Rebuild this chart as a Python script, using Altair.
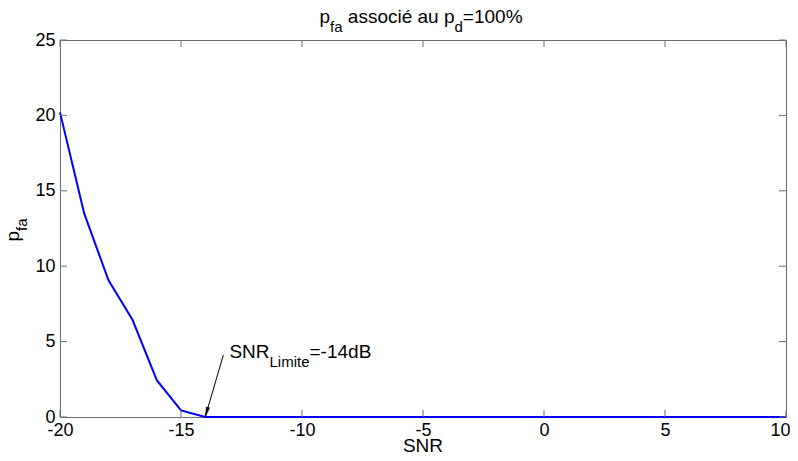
import altair as alt
import pandas as pd

# ---- data ----
snr = [-20, -19, -18, -17, -16, -15, -14, -13, -12, -11, -10, -9, -8, -7, -6, -5,
       -4, -3, -2, -1, 0, 1, 2, 3, 4, 5, 6, 7, 8, 9, 10]
pfa = [20.2, 13.5, 9.08, 6.43, 2.44, 0.44, 0, 0, 0, 0, 0, 0, 0, 0, 0, 0,
       0, 0, 0, 0, 0, 0, 0, 0, 0, 0, 0, 0, 0, 0, 0]
x_ticks = [-20, -15, -10, -5, 0, 5, 10]
y_ticks = [0, 5, 10, 15, 20, 25]
arrow_tail = (-13.25, 4.11)
arrow_head = (-14.0, 0.0)
label_pos = (-13.0, 3.9)
x_title = "SNR"

FONT = "Liberation Sans"
W, H = 726, 377
BOX = "#6e6e6e"
MAIN, SUB, DROP = 19, 15, 9

# Arial advance widths (per em)
AW = {'p': .556, 'f': .278, 'a': .556, ' ': .278, 's': .5, 'o': .556, 'c': .5,
      'i': .222, 'é': .556, 'u': .556, 'd': .556, '=': .584, '1': .556, '0': .556,
      '%': .889, 'S': .667, 'N': .722, 'R': .722, 'L': .556, 'm': .833, 't': .278,
      'e': .556, '-': .333, '4': .556, 'B': .667}


def tw(s, size):
    return sum(AW.get(ch, .556) for ch in s) * size


df = pd.DataFrame({"snr": snr, "pfa": pfa})
xs = alt.Scale(domain=[-20, 10], nice=False, zero=False)
ys = alt.Scale(domain=[0, 25], nice=False)

last_x = x_ticks[-1]
base = alt.Chart(df)
line = base.mark_line(color="#0000ff", strokeWidth=2).encode(
    x=alt.X("snr:Q", scale=xs,
            axis=alt.Axis(values=x_ticks, domain=False, ticks=False, tickSize=0, grid=False,
                          labelFont=FONT, labelFontSize=18, labelColor="black",
                          labelPadding=4, labelFlush=False, labelOverlap=False,
                          labelAlign=alt.condition(f"datum.value == {last_x}",
                                                   alt.value("right"), alt.value("center")),
                          labelOffset=alt.condition(f"datum.value == {last_x}",
                                                    alt.value(4), alt.value(0)),
                          labelExpr="'' + datum.value", title=None)),
    y=alt.Y("pfa:Q", scale=ys,
            axis=alt.Axis(values=y_ticks, domain=False, ticks=False, tickSize=0, grid=False,
                          labelFont=FONT, labelFontSize=18, labelColor="black",
                          labelPadding=5, labelFlush=False, labelOverlap=False,
                          labelExpr="'' + datum.value", title=None)),
)

xt = pd.DataFrame({"v": x_ticks})
yt = pd.DataFrame({"v": y_ticks})
tick_len = 7
xtick_b = alt.Chart(xt).mark_rule(color=BOX, strokeWidth=1).encode(
    x=alt.X("v:Q", scale=xs), y=alt.value(H), y2=alt.value(H - tick_len))
xtick_t = alt.Chart(xt).mark_rule(color=BOX, strokeWidth=1).encode(
    x=alt.X("v:Q", scale=xs), y=alt.value(0), y2=alt.value(tick_len))
ytick_l = alt.Chart(yt).mark_rule(color=BOX, strokeWidth=1).encode(
    y=alt.Y("v:Q", scale=ys), x=alt.value(0), x2=alt.value(tick_len))
ytick_r = alt.Chart(yt).mark_rule(color=BOX, strokeWidth=1).encode(
    y=alt.Y("v:Q", scale=ys), x=alt.value(W), x2=alt.value(W - tick_len))

# arrow
adf = pd.DataFrame({"x": [arrow_tail[0]], "y": [arrow_tail[1]],
                    "x2": [arrow_head[0]], "y2": [arrow_head[1]]})
arrow = alt.Chart(adf).mark_rule(color="black", strokeWidth=1).encode(
    x=alt.X("x:Q", scale=xs), y=alt.Y("y:Q", scale=ys), x2="x2:Q", y2="y2:Q")
hdf = pd.DataFrame({"x": [arrow_head[0] + 0.058], "y": [arrow_head[1] + 0.32]})
head = alt.Chart(hdf).mark_point(shape="M0,1L-0.32,-1L0.32,-1Z", filled=True,
                                 fill="black", stroke="black", strokeWidth=0.5,
                                 size=100, angle=16, opacity=1).encode(
    x=alt.X("x:Q", scale=xs), y=alt.Y("y:Q", scale=ys))

layers = [line, xtick_b, xtick_t, ytick_l, ytick_r, arrow, head]


def pieces_layers(pieces, data, enc, extra=None):
    out = []
    off = 0.0
    for txt, size, drop in pieces:
        lead = len(txt) - len(txt.lstrip(" "))
        off += tw(" " * lead, size)
        t = txt.lstrip(" ")
        kw = dict(text=t, font=FONT, fontSize=size, color="black", align="left",
                  baseline="alphabetic", dx=off, dy=drop)
        if extra:
            kw.update(extra)
        out.append(alt.Chart(data).mark_text(**kw).encode(**enc))
        off += tw(t, size)
    return out


# annotation SNR_Limite=-14dB
ann_pieces = [("SNR", MAIN, 0), ("Limite", SUB, DROP), ("=-14dB", MAIN, 0)]
ldf = pd.DataFrame({"x": [label_pos[0]], "y": [label_pos[1]]})
layers += pieces_layers(ann_pieces, ldf,
                        dict(x=alt.X("x:Q", scale=xs), y=alt.Y("y:Q", scale=ys)))

# title p_fa associé au p_d=100%
title_pieces = [("p", MAIN, 0), ("fa", SUB, DROP), (" associé au p", MAIN, 0),
                ("d", SUB, DROP), ("=100%", MAIN, 0)]
total = sum(tw(t, s) for t, s, _ in title_pieces)
start = W / 2 - total / 2 - 2
tdf = pd.DataFrame({"a": [0]})
layers += pieces_layers(title_pieces, tdf, dict(x=alt.value(start), y=alt.value(-17)))

# y title p_fa (rotated)
ytitle = [("p", MAIN, 0), ("fa", SUB, 8)]
ytot = sum(tw(t, s) for t, s, _ in ytitle)
ystart = 190 + ytot / 2
layers += pieces_layers(ytitle, tdf, dict(x=alt.value(-41), y=alt.value(ystart)),
                        extra={"angle": 270})

# x title
layers.append(alt.Chart(tdf).mark_text(
    text=x_title, font=FONT, fontSize=19, color="black", align="center",
    baseline="alphabetic").encode(x=alt.value(W / 2), y=alt.value(H + 35)))

chart = alt.layer(*layers).properties(
    width=W, height=H,
    autosize=alt.AutoSizeParams(type="none"),
    padding={"left": 52, "top": 32, "right": 4, "bottom": 36},
    background="white",
).configure_view(stroke=BOX, strokeWidth=1)

chart.save("out.html", embed_options={"renderer": "svg", "actions": False})
